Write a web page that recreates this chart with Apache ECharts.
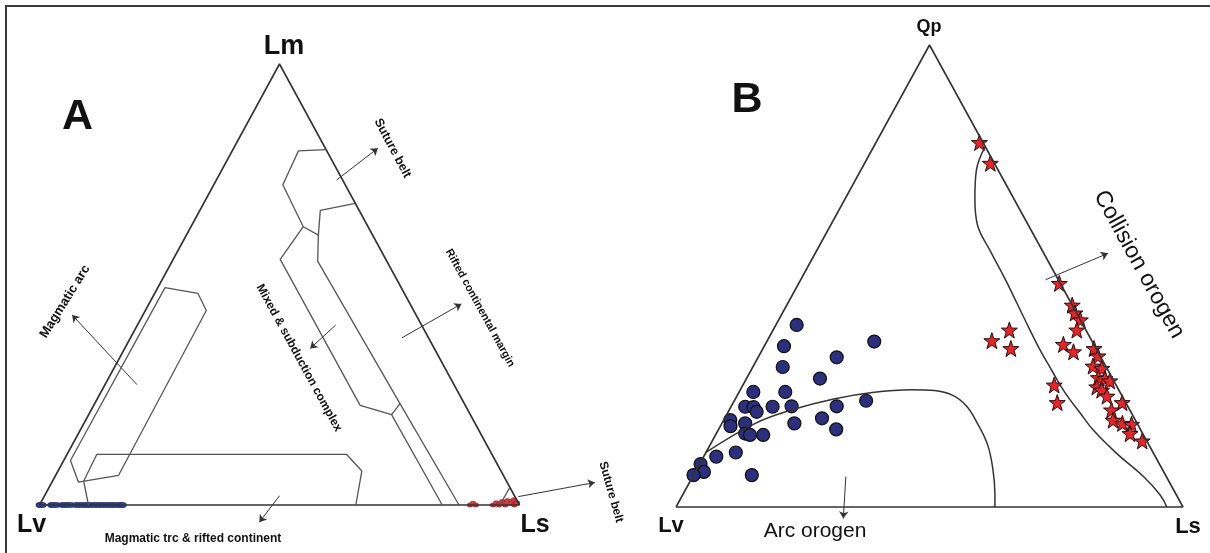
<!DOCTYPE html>
<html lang="en">
<head>
<meta charset="UTF-8">
<title>Lm-Lv-Ls and Qp-Lv-Ls</title>
<script src="https://cdn.jsdelivr.net/npm/echarts/dist/echarts.min.js"></script>
<style>
  * { padding: 0; margin: 0; }
  #box { width: 1210px; height: 553px; background: #fff; }
</style>
</head>
<body>
<div id="box"></div>
<script>
// every ternary value is [apex %, left corner %, right corner %]
// panel A: Lm - Lv - Ls
var aBlue = [
  [0, 100, 0], [0, 99.9, 0.1], [0, 99.3, 0.7], [0, 97.6, 2.4], [0, 97, 3], [0, 96.4, 3.6],
  [0, 95.3, 4.7], [0, 94.7, 5.3], [0, 94.1, 5.9], [0, 93.4, 6.6], [0, 92.4, 7.6], [0, 91.8, 8.2],
  [0, 91.1, 8.9], [0, 90.5, 9.5], [0, 89.9, 10.1], [0, 89.3, 10.7], [0, 88.6, 11.4], [0, 88, 12],
  [0, 87.4, 12.6], [0, 86.8, 13.2], [0, 86.1, 13.9], [0, 85.5, 14.5], [0, 84.9, 15.1],
  [0, 84.3, 15.7], [0, 83.6, 16.4], [0, 83, 17], [0, 82.6, 17.4]
];
var aRed = [
  [0, 10.3, 89.7], [0.4, 9.5, 90.1], [0, 9.1, 90.9], [0, 5.5, 94.5], [0.5, 4.6, 94.9],
  [0, 4.3, 95.7], [0.8, 3.2, 96], [0, 3, 97], [1, 2, 97], [0.4, 1.6, 98], [1.2, 0.6, 98.2],
  [0, 1.1, 98.9], [0.5, 0.3, 99.2]
];
// field boundaries of panel A
var aSuture = [[80.6, 0, 19.4], [80.3, 5.9, 13.8], [72.6, 13, 14.4], [63.1, 13.5, 23.4], [61.2, 11.3, 27.5]];
var aRifted = [[68.4, 0, 31.6], [66.8, 8.1, 25.1], [61.2, 11.3, 27.5], [55.3, 14.4, 30.3], [23, 13.4, 63.6], [0, 12.6, 87.4]];
var aMixed = [[63.1, 13.5, 23.4], [55.7, 22, 22.3], [22.6, 21.9, 55.5], [20.5, 16.4, 63.1], [0, 16.1, 83.9]];
var aMixedLink = [[20.5, 16.4, 63.1], [23, 13.4, 63.6]];
var aArc = [[49.3, 49.2, 1.5], [48, 43, 9], [44.1, 43.2, 12.7], [6.7, 80.2, 13.1], [5.2, 89.3, 5.5], [10.1, 88.5, 1.4], [49.3, 49.2, 1.5]];
var aTrc = [[0, 89.8, 10.2], [5.4, 88.1, 6.5], [11.5, 82.3, 6.2], [11.5, 30.3, 58.2], [7.7, 29, 63.3], [0, 34.1, 65.9]];
var aLsBelt = [[0, 4.1, 95.9], [4, 0, 96]];
// arrows, in plot units (x across the base, y up to the apex, 0-100)
var aArrows = [
  [[20.3, 27.3], [6.8, 43.1]],
  [[61.9, 73.7], [70.5, 80.9]],
  [[61.7, 40.8], [56.4, 35.5]],
  [[75.5, 37.9], [87.9, 45.6]],
  [[50, 2.1], [45.8, -3.9]],
  [[99.75, 1.9], [115.7, 5.1]]
];

// panel B: Qp - Lv - Ls
var bCircles = [
  [39.4, 56.5, 4.1], [34.8, 61.3, 3.9], [35.8, 43, 21.2], [32.4, 52.1, 15.5], [30.3, 63.8, 5.9],
  [27.8, 57.7, 14.5], [24.9, 72.3, 2.8], [24.9, 66, 9.1], [21.7, 75.5, 2.8], [21.6, 73.9, 4.5],
  [20.6, 73.8, 5.6], [21.7, 70.1, 8.2], [21.8, 66.3, 11.9], [21.8, 57.4, 20.8], [23, 51, 26],
  [18.8, 79.9, 1.3], [17.5, 80.5, 2], [18.1, 77.3, 4.6], [18.1, 67.6, 14.3], [19.2, 61.6, 19.2],
  [16.8, 60, 23.2], [15.9, 78.4, 5.7], [15.6, 77.6, 6.8], [15.6, 75, 9.4], [11.8, 82.3, 5.9],
  [10.9, 86.6, 2.5], [9.3, 90.5, 0.2], [7.6, 90.7, 1.7], [6.9, 93.1, 0], [6.9, 81.6, 11.5]
];
var bStars = [
  [78.9, 0.7, 20.4], [74.4, 0.8, 24.8], [48.4, 0.2, 51.4], [43.7, 0, 56.3], [42, 0.3, 57.7],
  [40.5, 0, 59.5], [38.3, 1.8, 59.9], [38.3, 15.1, 46.6], [36, 19.7, 44.3], [34.3, 16.8, 48.9],
  [35.2, 6, 58.8], [33.6, 4.8, 61.6], [34.3, 0.4, 65.3], [32.7, 0.4, 66.9], [30.5, 2.5, 67],
  [30, 1, 69], [28, 2.7, 69.3], [27.8, 1.5, 70.7], [27.3, 0.8, 71.9], [26, 4, 70],
  [25.3, 3.4, 71.3], [26.4, 12.2, 61.4], [22.6, 13.5, 63.9], [24, 3, 73], [22.6, 0.7, 76.7],
  [21, 3.6, 75.4], [18.8, 4.4, 76.8], [18.1, 2.9, 79], [17.9, 1.2, 80.9], [15.9, 2.5, 81.6],
  [14.3, 0.9, 84.8]
];
var bArcLine = [
  [11.8, 88.2, 0], [18.1, 75.3, 6.6], [21.2, 66, 12.8], [23.4, 57.2, 19.4], [24.8, 48.9, 26.3],
  [25.4, 40.9, 33.7], [25.2, 36.4, 38.4], [24.2, 33.4, 42.4], [21.9, 31.8, 46.3], [18.1, 31.5, 50.4],
  [13.5, 31.8, 54.7], [8.2, 33.4, 58.4], [2.8, 35.7, 61.5], [0, 37.1, 62.9]
];
var bCollisionLine = [
  [78, 0, 22], [72.9, 4.3, 22.8], [66.9, 7.6, 25.5], [61.1, 10, 28.9], [55.6, 10.3, 34.1],
  [49.8, 10.4, 39.8], [44.1, 10.7, 45.2], [39, 11, 50], [34, 11.2, 54.8], [29.6, 11.1, 59.3],
  [24.7, 10.9, 64.4], [20.3, 10.1, 69.6], [16.7, 9.4, 73.9], [11.6, 7.3, 81.1], [6.6, 4.5, 88.9],
  [2.6, 3.2, 94.2], [0, 3.2, 96.8]
];
var bArrows = [
  [[72.9, 49.2], [85.2, 54.9]],
  [[33.5, 6.6], [33, -2.5]]
];
var corners = [[0, 100, 0], [0, 0, 100], [100, 0, 0], [0, 100, 0]];

function xy(t) {
  return [t[2] + t[0] / 2, t[0]];
}

function polyline(g, pts, width, color, smooth) {
  return {
    type: 'line', xAxisIndex: g, yAxisIndex: g, silent: true, clip: false,
    symbol: 'none', smooth: smooth || false,
    lineStyle: { color: color, width: width },
    data: pts.map(xy)
  };
}

function arrows(g, list) {
  return {
    type: 'lines', coordinateSystem: 'cartesian2d', xAxisIndex: g, yAxisIndex: g,
    silent: true, clip: false, symbol: ['none', 'arrow'], symbolSize: 7,
    lineStyle: { color: '#333', width: 1, opacity: 1, curveness: 0 },
    data: list.map(function (a) { return { coords: a } })
  };
}

var star = 'path://M0,-10L2.35,-3.24L9.51,-3.09L3.8,1.24L5.88,8.09L0,4L-5.88,8.09L-3.8,1.24L-9.51,-3.09L-2.35,-3.24Z';

function label(text, x, y, font, deg) {
  return {
    type: 'text', x: x, y: y, rotation: (deg || 0) * Math.PI / 180, silent: true,
    style: {
      text: text, font: font, fill: '#111',
      align: 'center', verticalAlign: 'middle',
      textAlign: 'center', textVerticalAlign: 'middle'
    }
  };
}

var mCharts = echarts.init(document.getElementById('box'));
var axis = { type: 'value', min: 0, max: 100, show: false };

var option = {
  animation: false,
  grid: [
    { left: 39.5, top: 64, width: 480, height: 441 },
    { left: 676, top: 45, width: 507, height: 462 }
  ],
  xAxis: [Object.assign({ gridIndex: 0 }, axis), Object.assign({ gridIndex: 1 }, axis)],
  yAxis: [Object.assign({ gridIndex: 0 }, axis), Object.assign({ gridIndex: 1 }, axis)],
  graphic: [
    { type: 'rect', silent: true, z: -1, shape: { x: 6, y: 6, width: 1400, height: 800 },
      style: { fill: 'none', stroke: '#3a3a3a', lineWidth: 2 } },
    label('Lm', 284, 47, 'bold 27px "Liberation Sans"'),
    label('A', 77.5, 117, 'bold 43px "Liberation Sans"'),
    label('Lv', 31.5, 525, 'bold 25px "Liberation Sans"'),
    label('Ls', 535, 525, 'bold 25px "Liberation Sans"'),
    label('Magmatic arc', 65, 301.5, 'bold 13px "Liberation Sans"', 58),
    label('Suture belt', 392.5, 148.3, 'bold 12.5px "Liberation Sans"', -62),
    label('Mixed & subduction complex', 299, 358, 'bold 12px "Liberation Sans"', -61.3),
    label('Rifted continental margin', 480, 308, 'bold 11px "Liberation Sans"', -61.2),
    label('Magmatic trc & rifted continent', 193, 539, 'bold 12px "Liberation Sans"'),
    label('Suture belt', 611, 492, 'bold 12px "Liberation Sans"', -74),
    label('Qp', 929, 27, 'bold 18px "Liberation Sans"'),
    label('B', 747, 100.5, 'bold 43px "Liberation Sans"'),
    label('Lv', 671, 525.6, 'bold 22px "Liberation Sans"'),
    label('Ls', 1188, 527, 'bold 22px "Liberation Sans"'),
    label('Arc orogen', 815, 530.8, '21px "Liberation Sans"'),
    label('Collision orogen', 1139, 264.5, '23px "Liberation Sans"', -61.2)
  ],
  series: [
    polyline(0, corners, 1.6, '#333'),
    polyline(0, aSuture, 1.3, '#555'),
    polyline(0, aRifted, 1.3, '#555'),
    polyline(0, aMixed, 1.3, '#555'),
    polyline(0, aMixedLink, 1.3, '#555'),
    polyline(0, aArc, 1.3, '#555'),
    polyline(0, aTrc, 1.3, '#555'),
    polyline(0, aLsBelt, 1.3, '#555'),
    arrows(0, aArrows),
    {
      type: 'scatter', xAxisIndex: 0, yAxisIndex: 0, clip: false, silent: true,
      symbol: 'circle', symbolSize: [7, 5],
      itemStyle: { color: '#34479a', borderColor: '#1f2a6a', borderWidth: 0.8, opacity: 1 },
      data: aBlue.map(xy)
    },
    {
      type: 'scatter', xAxisIndex: 0, yAxisIndex: 0, clip: false, silent: true,
      symbol: 'circle', symbolSize: [6, 4],
      itemStyle: { color: '#d8383e', borderColor: '#8a1a1e', borderWidth: 0.6, opacity: 1 },
      data: aRed.map(xy)
    },

    polyline(1, corners, 1.6, '#333'),
    polyline(1, bArcLine, 1.5, '#333', 0.4),
    polyline(1, bCollisionLine, 1.5, '#333', 0.4),
    arrows(1, bArrows),
    {
      type: 'scatter', xAxisIndex: 1, yAxisIndex: 1, clip: false, silent: true,
      symbol: 'circle', symbolSize: 13,
      itemStyle: { color: '#2b2f7c', borderColor: '#111', borderWidth: 1.2, opacity: 1 },
      data: bCircles.map(xy)
    },
    {
      type: 'scatter', xAxisIndex: 1, yAxisIndex: 1, clip: false, silent: true,
      symbol: star, symbolSize: 16,
      itemStyle: { color: '#e3262b', borderColor: '#2a0a0a', borderWidth: 1, opacity: 1 },
      data: bStars.map(xy)
    }
  ]
};
mCharts.setOption(option);
</script>
</body>
</html>
